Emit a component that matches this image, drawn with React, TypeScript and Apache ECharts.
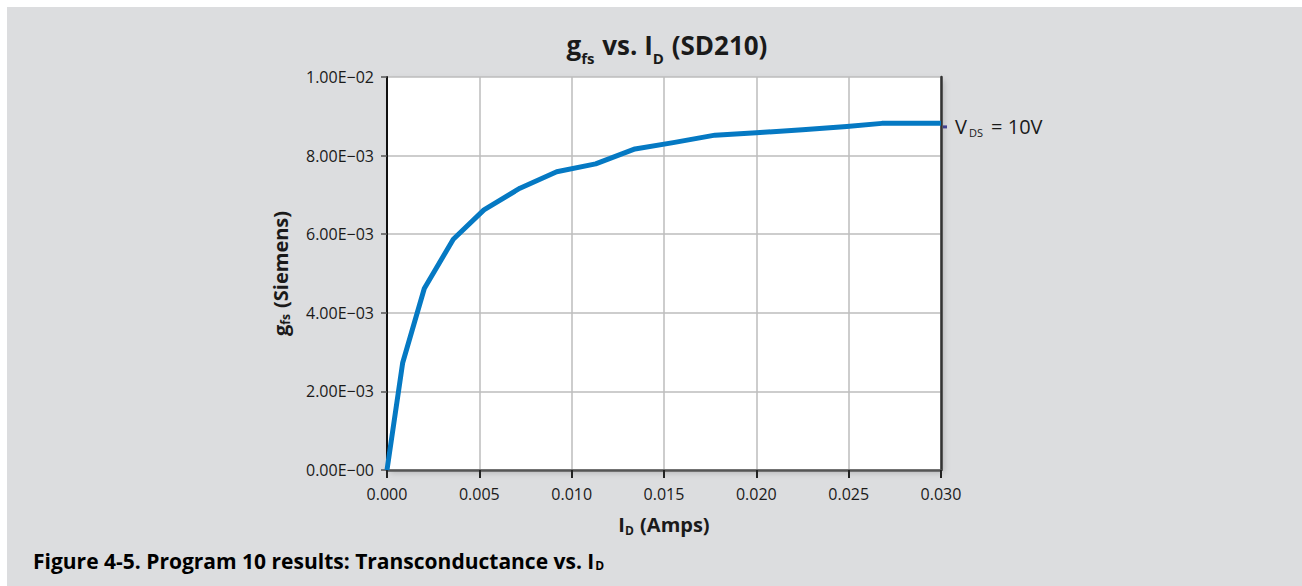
import React, { useEffect, useRef } from "react";
import * as echarts from "echarts";

const idAmps = [0, 0.00085, 0.00202, 0.00359, 0.00525, 0.0072, 0.00919, 0.0113, 0.01343, 0.0155, 0.01776, 0.02, 0.0225, 0.0249, 0.0268, 0.03];
const gfs = [0, 0.00273, 0.00462, 0.00587, 0.00662, 0.00717, 0.00759, 0.00779, 0.00817, 0.00833, 0.00852, 0.00858, 0.00866, 0.00874, 0.00882, 0.00882];
const yTickLabels = ["0.00E\u221200", "2.00E\u221203", "4.00E\u221203", "6.00E\u221203", "8.00E\u221203", "1.00E\u221202"];
const markerPoint = [0.03, 0.00873];

const FONT = "'Open Sans', 'Noto Sans', sans-serif";

export default function App() {
  const ref = useRef<HTMLDivElement>(null);
  useEffect(() => {
    if (!ref.current) return;
    const chart = echarts.init(ref.current, undefined, { renderer: "svg" });
    const data = idAmps.map((x, i) => [x, gfs[i]]);
    chart.setOption({
      animation: false,
      backgroundColor: "#dcdddf",
      textStyle: { fontFamily: FONT },
      title: {
        text: "{b|g}{s|fs}{b| vs. I}{s|D}{b| (SD210)}",
        left: 655,
        textAlign: "center",
        top: 14,
        textStyle: {
          rich: {
            b: { fontFamily: FONT, fontWeight: "bold", fontSize: 26, color: "#1a1a1a", verticalAlign: "bottom", lineHeight: 32 },
            s: { fontFamily: FONT, fontWeight: "bold", fontSize: 15, color: "#1a1a1a", verticalAlign: "bottom", lineHeight: 22, padding: [0, 1, -7, 0] },
          },
        },
      },
      grid: {
        left: 380,
        top: 70,
        width: 554,
        height: 393,
        show: true,
        backgroundColor: "#ffffff",
        borderWidth: 0,
        shadowColor: "rgba(0,0,0,0.18)",
        shadowBlur: 6,
        shadowOffsetX: 3,
        shadowOffsetY: 3,
      },
      xAxis: {
        type: "value",
        min: 0,
        max: 0.03,
        interval: 0.005,
        name: "{b|I}{s|D}{b| (Amps)}",
        nameLocation: "middle",
        nameGap: 41,
        nameTextStyle: {
          rich: {
            b: { fontFamily: FONT, fontWeight: "bold", fontSize: 20, color: "#1a1a1a", lineHeight: 26 },
            s: { fontFamily: FONT, fontWeight: "bold", fontSize: 12, color: "#1a1a1a", padding: [13, 1, 0, 0] },
          },
        },
        axisLine: { show: true, lineStyle: { color: "#555", width: 2.5 } },
        axisTick: { show: true, length: 8, lineStyle: { color: "#222", width: 2 } },
        axisLabel: {
          margin: 16,
          fontFamily: FONT,
          fontSize: 16,
          color: "#1a1a1a",
          formatter: (v: number) => v.toFixed(3),
        },
        splitLine: { show: true, lineStyle: { color: "#bdbdbd", width: 1.5 } },
      },
      yAxis: [
        {
          type: "value",
          min: 0,
          max: 0.01,
          interval: 0.002,
          name: "{b|g}{s|fs}{b| (Siemens)}",
          nameLocation: "middle",
          nameRotate: 90,
          nameGap: 94,
          nameTextStyle: {
            rich: {
              b: { fontFamily: FONT, fontWeight: "bold", fontSize: 20, color: "#1a1a1a", lineHeight: 26 },
              s: { fontFamily: FONT, fontWeight: "bold", fontSize: 12, color: "#1a1a1a", padding: [11, 1, 0, 0] },
            },
          },
          axisLine: { show: true, lineStyle: { color: "#111", width: 2 } },
          axisTick: { show: true, length: 6, lineStyle: { color: "#555", width: 1.5 } },
          axisLabel: {
            margin: 13,
            fontFamily: FONT,
            fontSize: 16,
            color: "#1a1a1a",
            formatter: (v: number) => yTickLabels[Math.round(v / 0.002)] ?? "",
          },
          splitLine: { show: true, lineStyle: { color: "#bdbdbd", width: 1.5 } },
        },
        {
          type: "value",
          position: "right",
          min: 0,
          max: 0.01,
          interval: 0.002,
          axisLine: { show: true, lineStyle: { color: "#333", width: 2.5 } },
          axisTick: { show: false },
          axisLabel: { show: false },
          splitLine: { show: false },
        },
      ],
      series: [
        {
          type: "line",
          data,
          yAxisIndex: 0,
          showSymbol: false,
          symbol: "none",
          lineStyle: { color: "#0579c3", width: 5, cap: "butt", join: "round" },
          endLabel: {
            show: true,
            distance: 14,
            offset: [0, 3],
            formatter: "{v|V}{s|DS}{v| = 10V}",
            rich: {
              v: { fontFamily: FONT, fontSize: 20, color: "#1a1a1a", lineHeight: 26 },
              s: { fontFamily: FONT, fontSize: 11, color: "#1a1a1a", padding: [13, 3, 0, 2] },
            },
          },
          z: 3,
        },
        {
          type: "scatter",
          data: [markerPoint],
          yAxisIndex: 0,
          symbol: "rect",
          symbolSize: [4, 3],
          symbolOffset: [4, 0],
          itemStyle: { color: "#1a1a80" },
          z: 4,
          silent: true,
        },
      ],
      graphic: [
        {
          type: "text",
          left: 26,
          top: 543,
          style: {
            text: "{b|Figure 4-5. Program 10 results: Transconductance vs. I}{s|D}",
            rich: {
              b: { fontFamily: FONT, fontWeight: "bold", fontSize: 21, color: "#222", lineHeight: 26 },
              s: { fontFamily: FONT, fontWeight: "bold", fontSize: 12, color: "#222", padding: [10, 0, 0, 1] },
            },
          },
        },
      ],
    });
    return () => chart.dispose();
  }, []);
  return (
    <div
      ref={ref}
      style={{ position: "fixed", left: 7, top: 7, width: 1295, height: 579 }}
    />
  );
}
